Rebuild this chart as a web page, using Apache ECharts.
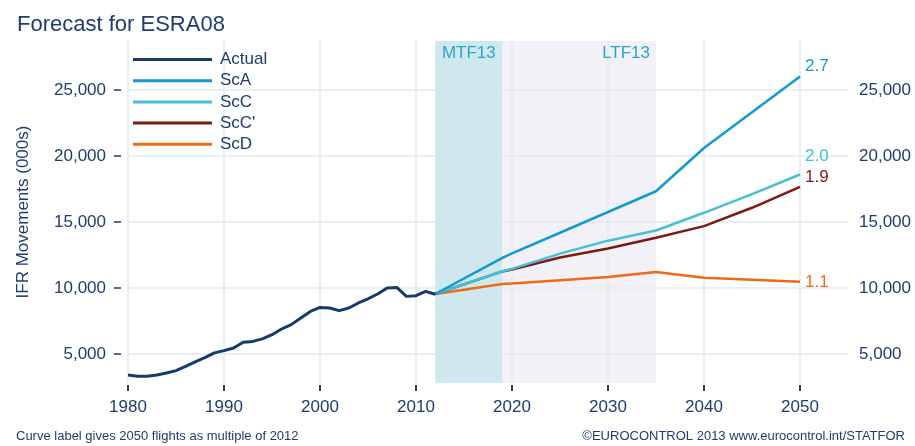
<!DOCTYPE html>
<html>
<head>
<meta charset="utf-8">
<script src="https://cdn.jsdelivr.net/npm/echarts@6/dist/echarts.min.js"></script>
<style>html,body{margin:0;padding:0;background:#fff}#c{width:915px;height:446px}</style>
</head>
<body>
<div id="c"></div>
<script>
// ---- data ----
var actualYears = [1980,1981,1982,1983,1984,1985,1986,1987,1988,1989,1990,1991,1992,1993,1994,1995,1996,1997,1998,1999,2000,2001,2002,2003,2004,2005,2006,2007,2008,2009,2010,2011,2012];
var actualValues = [3410,3310,3310,3410,3560,3740,4060,4400,4720,5080,5250,5450,5880,5950,6140,6460,6890,7220,7720,8220,8520,8480,8280,8480,8860,9180,9540,9990,10040,9360,9410,9740,9520];
var forecastYears = [2012,2019,2020,2025,2030,2035,2040,2045,2050];
var scA  = [9540,12280,12610,14180,15750,17320,20600,23310,26020];
var scC  = [9540,11260,11440,12600,13580,14350,15690,17100,18590];
var scCp = [9540,11250,11400,12300,12990,13800,14680,16070,17650];
var scD  = [9540,10290,10340,10580,10830,11200,10770,10620,10470];
var curveLabels = {ScA:'2.7', ScC:'2.0', "ScC'":'1.9', ScD:'1.1'};
var xTicks = [1980,1990,2000,2010,2020,2030,2040,2050];
var yTicks = [5000,10000,15000,20000,25000];
var mtfRange = [2012,2019];
var ltfRange = [2019,2035];

function pairs(xs, ys){ return xs.map(function(x,i){ return [x, ys[i]]; }); }
function fmt(v){ return String(v).replace(/\B(?=(\d{3})+(?!\d))/g, ','); }

var navy = '#1f3b6f';
var font = 'Liberation Sans, Arial, sans-serif';
var grid = '#dcecf3';

var colors = {Actual:'#163a6c', ScA:'#1399d3', ScC:'#45c0d6', "ScC'":'#7c1a14', ScD:'#ef6a18'};
var endOffsets = {ScA:[0,-10], ScC:[0,-18], "ScC'":[0,-10], ScD:[0,1]};

function fc(name, vals){
  return {
    name: name, type: 'line', data: pairs(forecastYears, vals), symbol: 'none',
    lineStyle: {width: 2.5, color: colors[name]}, itemStyle: {color: colors[name]},
    z: 3,
    endLabel: {show: true, formatter: curveLabels[name], color: colors[name], fontSize: 17,
      fontFamily: font, distance: 5, offset: endOffsets[name]}
  };
}

var chart = echarts.init(document.getElementById('c'), null, {renderer:'canvas'});
chart.setOption({
  animation: false,
  textStyle: {fontFamily: font},
  title: {text: 'Forecast for ESRA08', left: 12, top: 9,
    textStyle: {fontSize: 22, fontWeight: 'normal', color: navy, fontFamily: font}},
  grid: {left: 128, right: 67, top: 41, bottom: 63},
  legend: {
    orient: 'vertical', left: 133, top: 51, padding: 0, itemWidth: 79, itemHeight: 3, itemGap: 4.2,
    icon: 'rect',
    textStyle: {fontSize: 17, lineHeight: 17, color: navy, fontFamily: font, padding: [0,0,0,3]},
    data: ['Actual','ScA','ScC',"ScC'",'ScD']
  },
  xAxis: {
    type: 'value', min: 1980, max: 2055, offset: 2,
    axisLine: {show: false},
    axisTick: {show: true, length: 6, customValues: xTicks, lineStyle: {color: navy, width: 2}},
    axisLabel: {customValues: xTicks, margin: 14, fontSize: 17, color: navy, fontFamily: font,
      formatter: function(v){ return String(v); }},
    splitLine: {show: true, lineStyle: {color: grid, width: 1.5}}
  },
  yAxis: [{
    type: 'value', min: 2800, max: 28700, position: 'left', offset: 7,
    name: 'IFR Movements (000s)', nameLocation: 'middle', nameGap: 89,
    nameTextStyle: {fontSize: 17, color: navy, fontFamily: font},
    axisLine: {show: false},
    axisTick: {show: true, length: 7, customValues: yTicks, lineStyle: {color: navy, width: 1.5}},
    axisLabel: {customValues: yTicks, margin: 15, fontSize: 17, color: navy, fontFamily: font, formatter: fmt},
    splitLine: {show: true, lineStyle: {color: grid, width: 1.5}}
  },{
    type: 'value', min: 2800, max: 28700, position: 'right',
    axisLine: {show: false}, axisTick: {show: false, customValues: yTicks},
    axisLabel: {customValues: yTicks, margin: 11, fontSize: 17, color: navy, fontFamily: font, formatter: fmt},
    splitLine: {show: false}
  }],
  series: [
    {
      name: 'Actual', type: 'line', data: pairs(actualYears, actualValues), symbol: 'none',
      lineStyle: {width: 3, color: colors.Actual}, itemStyle: {color: colors.Actual}, z: 4,
      markArea: {
        silent: true,
        label: {fontSize: 17, color: '#2aa5cb', fontFamily: font, distance: 4},
        data: [
          [{xAxis: mtfRange[0], name: 'MTF13', itemStyle: {color: '#cfe8ee'}, label: {position: 'insideTop'}}, {xAxis: mtfRange[1]}],
          [{xAxis: ltfRange[0], name: 'LTF13', itemStyle: {color: 'rgba(236,234,245,0.65)'}, label: {position: 'insideTopRight', offset: [-2,0]}}, {xAxis: ltfRange[1]}]
        ]
      }
    },
    fc('ScD', scD), fc("ScC'", scCp), fc('ScC', scC), fc('ScA', scA)
  ],
  graphic: [
    {type: 'text', left: 16, top: 430, style: {text: 'Curve label gives 2050 flights as multiple of 2012', fontSize: 13, fill: navy, fontFamily: font}},
    {type: 'text', right: 10, top: 430, style: {text: '\u00A9EUROCONTROL 2013 www.eurocontrol.int/STATFOR', fontSize: 13, fill: navy, fontFamily: font}}
  ]
});
</script>
</body>
</html>
